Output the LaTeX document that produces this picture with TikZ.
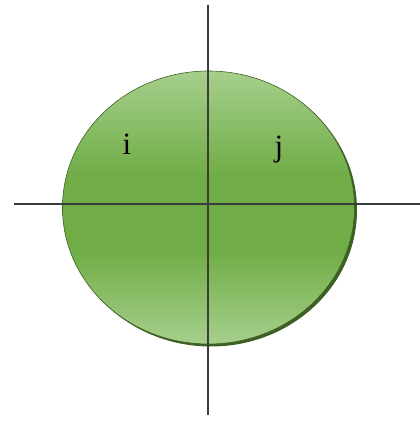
\documentclass[tikz,border=0pt]{standalone}
\usepackage{fontspec}
\setmainfont{Liberation Serif}
\usetikzlibrary{positioning,shapes.geometric}
\definecolor{leaf}{RGB}{112,173,71}
\definecolor{leaflight}{RGB}{166,207,140}
\definecolor{leafedge}{RGB}{60,95,35}
\definecolor{axis}{RGB}{60,60,60}
\pgfdeclareverticalshading{leafshade}{100bp}{color(0bp)=(leaflight); color(25bp)=(leaflight);
  color(42bp)=(leaf); color(56bp)=(leaf); color(75bp)=(leaflight); color(100bp)=(leaflight)}

\begin{document}
\begin{tikzpicture}[x=1pt,y=1pt,
  disc/.style={ellipse,draw=leafedge,line width=0.6pt,shading=leafshade,
               minimum width=292pt,minimum height=273pt,inner sep=0pt},
  ax/.style={axis,line width=1.3pt},
  lbl/.style={font=\fontsize{31}{31}\selectfont,text=black}]
 \useasboundingbox (0,0) rectangle (420,421);
 \fill[leafedge] (211,211) ellipse [x radius=146,y radius=136.5];
 \node[disc] (body) at (208.5,213.5) {};
 \node[lbl] (i) at (127,277) {i};
 \node[lbl] (j) at (279,271) {j};
 \coordinate (top) at (208,416);
 \coordinate (bot) at (208,6);
 \coordinate (left) at (14,217);
 \coordinate (right) at (420,217);
 \draw[ax] (top)--(bot);
 \draw[ax] (left)--(right);
\end{tikzpicture}
\end{document}
